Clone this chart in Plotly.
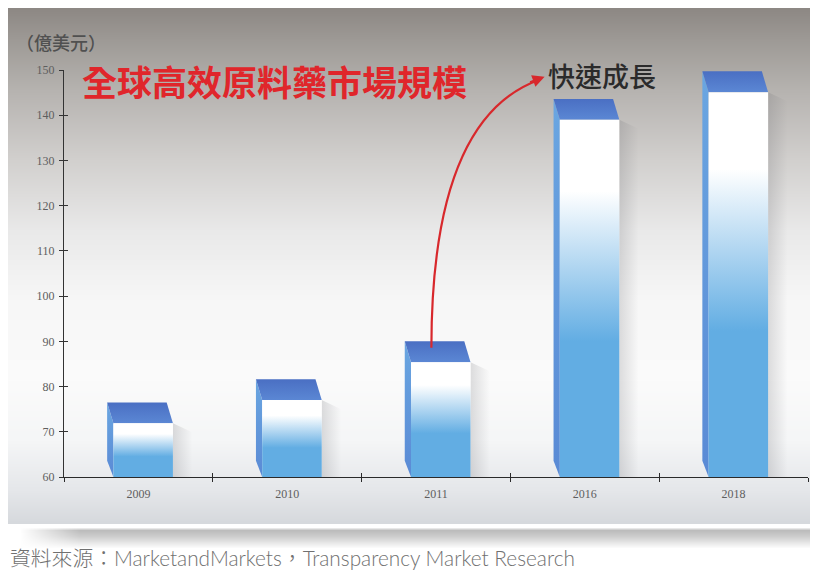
import base64
import struct
import zlib

import numpy as np
import plotly.graph_objects as go

# ---------------- data ----------------
years = ["2009", "2010", "2011", "2016", "2018"]
market_size = [71.9, 77.0, 85.4, 139.0, 145.1]   # 億美元 (front face height)
y_ticks = [60, 70, 80, 90, 100, 110, 120, 130, 140, 150]

title_text = "全球高效原料藥市場規模"
unit_text = "（億美元）"
growth_text = "快速成長"
source_text = "資料來源：MarketandMarkets，Transparency Market Research"

# ---------------- geometry / style ----------------
W, H = 810, 563
ML, MR, MT, MB = 56, 10, 62, 94
PW, PH = W - ML - MR, H - MT - MB
BASE = 60
Y_MAX = 150
FRONT_L, FRONT_R = -0.168, 0.232   # front face extent around category center
DX, DY = -0.042, 4.6               # box depth (category units / value units)

FRONT_BLUE = "#62ade3"
SIDE_TOP, SIDE_BOT = "#6aa6e1", "#5a8ad5"
TOP_DARK, TOP_LIGHT = "#4a6fc3", "#5b87d4"


def px_to_paper_x(px):
    return (px - ML) / PW


def px_to_paper_y(py):
    return (H - MB - py) / PH


# ---------------- background image (pure python PNG) ----------------
def lerp_stops(stops, n):
    ys = np.array([s[0] for s in stops], float)
    cols = np.array([s[1] for s in stops], float)
    idx = np.arange(n)
    return np.stack([np.interp(idx, ys, cols[:, k]) for k in range(3)], axis=1)


img = np.full((H, W, 3), 255.0)
panel_stops = [
    (0, (141, 136, 132)), (32, (158, 154, 150)), (82, (182, 179, 176)),
    (152, (210, 208, 206)), (222, (233, 233, 233)), (292, (247, 247, 247)),
    (372, (251, 251, 251)), (432, (245, 246, 247)), (482, (229, 231, 234)),
    (515, (214, 217, 221)),
]
rows = lerp_stops(panel_stops, H)
img[0:516, :, :] = rows[0:516][:, None, :]
# soft shadow band below the panel
shadow_stops = [(519, (255, 255, 255)), (522, (188, 188, 188)), (528, (205, 205, 205)),
                (540, (255, 255, 255))]
srows = lerp_stops(shadow_stops, H)
fade = np.clip((np.arange(W) - 12) / 60.0, 0, 1)[None, :, None]
band = srows[519:541][:, None, :]
img[519:541, :, :] = 255 - (255 - band) * fade
img = np.clip(img, 0, 255).astype(np.uint8)


def png_data_uri(arr):
    h, w, _ = arr.shape
    raw = b"".join(b"\x00" + arr[r].tobytes() for r in range(h))

    def chunk(tag, data):
        c = struct.pack(">I", len(data)) + tag + data
        return c + struct.pack(">I", zlib.crc32(tag + data) & 0xFFFFFFFF)

    png = (b"\x89PNG\r\n\x1a\n"
           + chunk(b"IHDR", struct.pack(">IIBBBBB", w, h, 8, 2, 0, 0, 0))
           + chunk(b"IDAT", zlib.compress(raw, 9))
           + chunk(b"IEND", b""))
    return "data:image/png;base64," + base64.b64encode(png).decode()


bg_uri = png_data_uri(img)

# ---------------- figure ----------------
fig = go.Figure()
noline = dict(width=0, color="rgba(0,0,0,0)")

for i, v in enumerate(market_size):
    xl, xr = i + FRONT_L, i + FRONT_R
    # faint shadow to the right of the box
    fig.add_trace(go.Scatter(
        x=[xr, xr + 0.13, xr + 0.13, xr, xr], y=[BASE, BASE, v - 2, v, BASE],
        mode="lines", fill="toself", line=noline, hoverinfo="skip", showlegend=False,
        fillgradient=dict(type="horizontal",
                          colorscale=[[0, "rgba(110,110,115,0.22)"], [1, "rgba(110,110,115,0)"]],
                          start=xr, stop=xr + 0.13)))
    # side face
    fig.add_trace(go.Scatter(
        x=[xl, xl, xl + DX, xl + DX, xl], y=[BASE, v, v + DY, BASE + 3.6, BASE],
        mode="lines", fill="toself", line=noline, hoverinfo="skip", showlegend=False,
        fillgradient=dict(type="vertical", colorscale=[[0, SIDE_BOT], [1, SIDE_TOP]],
                          start=BASE, stop=v + DY)))
    # top face
    fig.add_trace(go.Scatter(
        x=[xl, xr, xr + DX, xl + DX, xl], y=[v, v, v + DY, v + DY, v],
        mode="lines", fill="toself", line=noline, hoverinfo="skip", showlegend=False,
        fillgradient=dict(type="vertical", colorscale=[[0, TOP_LIGHT], [1, TOP_DARK]],
                          start=v, stop=v + DY)))
    # front face
    fig.add_trace(go.Scatter(
        x=[xl, xr, xr, xl, xl], y=[BASE, BASE, v, v, BASE],
        mode="lines", fill="toself", line=noline, hoverinfo="skip", showlegend=False,
        fillgradient=dict(type="vertical",
                          colorscale=[[0, FRONT_BLUE], [0.38, FRONT_BLUE], [0.8, "#ffffff"],
                                      [1, "#ffffff"]],
                          start=BASE, stop=v)))

# empty trace for overlay axes (inside half of crossing ticks)
fig.add_trace(go.Scatter(x=[None], y=[None], xaxis="x2", yaxis="y2",
                         showlegend=False, hoverinfo="skip"))

# curved growth arrow: from 2011 bar top towards the growth label
i11 = years.index("2011")
x0, y0 = i11 + FRONT_L + 0.137, market_size[i11] + 3.2
x1, y1 = 2.70, 147.9
cx, cy = x0, 139.5
fig.add_shape(type="path", path=f"M {x0},{y0} Q {cx},{cy} {x1},{y1}",
              xref="x", yref="y", line=dict(color="#d8282c", width=2.2))
fig.add_annotation(x=x1 + 0.03, y=y1 + 0.6, xref="x", yref="y", ax=-16, ay=6,
                   showarrow=True, arrowhead=2, arrowsize=1.1, arrowwidth=2.2,
                   arrowcolor="#d8282c", text="", standoff=0)

tick_font = dict(family="Liberation Serif, Times New Roman, serif", size=12, color="#5e5e5e")
boundaries = [i - 0.5 for i in range(len(years) + 1)]

fig.update_layout(
    width=W, height=H,
    margin=dict(l=ML, r=MR, t=MT, b=MB, pad=0),
    paper_bgcolor="white", plot_bgcolor="rgba(0,0,0,0)",
    showlegend=False,
    xaxis=dict(range=[-0.5, len(years) - 0.5], tickmode="array",
               tickvals=list(range(len(years))), ticktext=years,
               ticks="", showline=True, linecolor="#2a2a2a", linewidth=1.3,
               showgrid=False, zeroline=False, tickfont=tick_font, fixedrange=True,
               ticklabelstandoff=5,
               minor=dict(tickmode="array", tickvals=boundaries, ticks="outside",
                          ticklen=4, tickwidth=1.2, tickcolor="#2a2a2a")),
    yaxis=dict(range=[BASE, Y_MAX], tickmode="array", tickvals=y_ticks,
               ticks="outside", ticklen=4, tickwidth=1.2, tickcolor="#333",
               showline=True, linecolor="#333", linewidth=1.3, ticklabelstandoff=2,
               showgrid=False, zeroline=False, tickfont=tick_font, fixedrange=True),
    xaxis2=dict(overlaying="x", anchor="y2", range=[-0.5, len(years) - 0.5],
                tickmode="array", tickvals=boundaries, ticks="inside", ticklen=4,
                tickwidth=1.2, tickcolor="#2a2a2a", showticklabels=False,
                showline=False, showgrid=False, zeroline=False),
    yaxis2=dict(overlaying="y", anchor="x2", range=[BASE, Y_MAX], tickmode="array",
                tickvals=y_ticks, ticks="inside", ticklen=4, tickwidth=1.2,
                tickcolor="#333", showticklabels=False, showline=False,
                showgrid=False, zeroline=False),
    images=[dict(source=bg_uri, xref="paper", yref="paper",
                 x=px_to_paper_x(0), y=px_to_paper_y(0),
                 sizex=W / PW, sizey=H / PH, xanchor="left", yanchor="top",
                 sizing="stretch", layer="below")],
)

cjk = "Noto Sans CJK TC, Noto Sans CJK SC, sans-serif"
fig.add_annotation(text=title_text, xref="paper", yref="paper",
                   x=px_to_paper_x(72), y=px_to_paper_y(73),
                   xanchor="left", yanchor="middle", showarrow=False,
                   font=dict(family=cjk, size=35, color="#e0262b", weight=700))
fig.add_annotation(text=growth_text, xref="paper", yref="paper",
                   x=px_to_paper_x(538), y=px_to_paper_y(67),
                   xanchor="left", yanchor="middle", showarrow=False,
                   font=dict(family=cjk, size=27, color="#2b2b2b", weight=500))
fig.add_annotation(text=unit_text, xref="paper", yref="paper",
                   x=px_to_paper_x(6), y=px_to_paper_y(34),
                   xanchor="left", yanchor="middle", showarrow=False,
                   font=dict(family=cjk, size=18, color="#505050", weight=500))
fig.add_annotation(text=source_text, xref="paper", yref="paper",
                   x=px_to_paper_x(0), y=px_to_paper_y(549),
                   xanchor="left", yanchor="middle", showarrow=False,
                   font=dict(family="Lato, " + cjk, size=20.8, color="#707070", weight=300))

fig.write_html("out.html")
